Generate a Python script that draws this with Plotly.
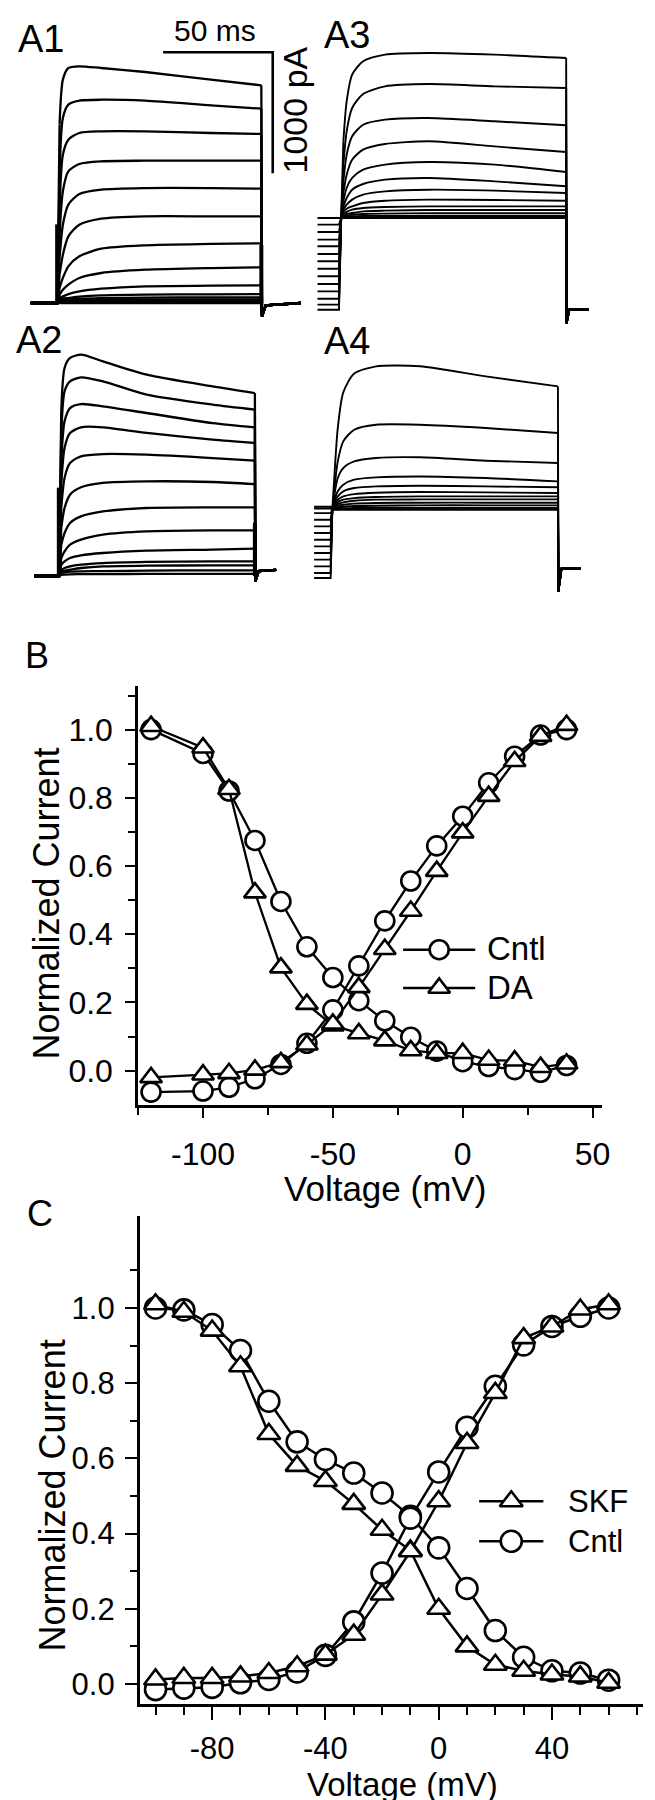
import plotly.graph_objects as go

W, H = 655, 1800
FONT = "Liberation Sans, Arial, Helvetica, sans-serif"

# ====================== DATA ======================
# ---- Panel A: current sweeps (pA) sampled at times (ms) after step onset ----
A1_t = [1, 2.5, 5, 10, 20, 40, 70, 93]
A1_sweeps = [
    [1474, 1846, 1942, 1956, 1942, 1909, 1846, 1799],
    [1061, 1529, 1639, 1672, 1680, 1672, 1634, 1606],
    [785, 1226, 1350, 1405, 1419, 1419, 1405, 1397],
    [565, 923, 1088, 1149, 1171, 1176, 1176, 1176],
    [372, 647, 813, 901, 937, 950, 950, 945],
    [234, 399, 551, 647, 697, 716, 716, 716],
    [124, 207, 303, 386, 449, 477, 488, 493],
    [69, 110, 152, 207, 248, 275, 289, 295],
    [41, 55, 74, 96, 118, 138, 143, 146],
    [28, 36, 41, 52, 63, 69, 72, 74],
    [19, 25, 30, 36, 41, 44, 47, 47],
    [12, 15, 20, 25, 28, 30, 30, 30],
    [8, 10, 12, 15, 16, 17, 17, 17],
    [4, 5, 6, 7, 8, 8, 8, 8],
    [0, 0, 0, 0, 0, 0, 0, 0],
]
A1_hold = 0
A1_pre_start = -12.2
A1_tail_t = [93.3, 95, 111]
A1_tail_I = [-110, -20, 0]
A1_artifact = [650, 480]

A2_t = [1, 2.5, 5, 10, 20, 40, 70, 89.3]
A2_sweeps = [
    [1361, 1719, 1802, 1829, 1774, 1664, 1567, 1512],
    [1168, 1526, 1609, 1642, 1609, 1499, 1416, 1375],
    [948, 1278, 1388, 1421, 1402, 1347, 1264, 1229],
    [755, 1058, 1182, 1229, 1229, 1182, 1127, 1099],
    [562, 810, 934, 989, 1008, 1003, 975, 953],
    [397, 562, 672, 733, 769, 782, 777, 760],
    [259, 355, 438, 493, 534, 562, 567, 567],
    [149, 204, 259, 300, 342, 369, 377, 377],
    [94, 121, 149, 171, 190, 209, 218, 226],
    [52, 66, 80, 94, 107, 116, 121, 121],
    [39, 44, 52, 66, 80, 85, 88, 88],
    [25, 30, 36, 39, 41, 44, 47, 47],
    [10, 12, 14, 15, 16, 17, 17, 17],
]
A2_hold = 0
A2_pre_start = -11.3
A2_tail_t = [89.5, 91, 99]
A2_tail_I = [-45, 40, 50]
A2_artifact = [730, 440]

A3_t = [1, 2.5, 5, 10, 20, 40, 70, 102.6]
A3_sweeps = [
    [634, 964, 1185, 1295, 1350, 1364, 1350, 1322],
    [441, 716, 909, 1025, 1088, 1107, 1088, 1074],
    [303, 523, 675, 771, 813, 826, 799, 766],
    [207, 358, 482, 565, 612, 634, 592, 545],
    [138, 248, 331, 399, 441, 463, 441, 380],
    [96, 165, 234, 281, 317, 331, 303, 262],
    [69, 110, 152, 193, 220, 234, 226, 207],
    [50, 77, 96, 124, 143, 152, 149, 143],
    [33, 50, 69, 83, 91, 96, 96, 96],
    [22, 33, 41, 55, 61, 66, 66, 66],
    [14, 19, 28, 33, 36, 39, 39, 39],
    [6, 11, 14, 17, 17, 17, 17, 17],
    [3, 5, 6, 7, 7, 7, 7, 7],
    [0, 0, 0, 0, 0, 0, 0, 0],
]
A3_prepulse = [-758, -716, -667, -606, -545, -482, -419, -358, -298, -234, -179, -116, -55, 0]
A3_pre_start = -10.8
A3_pre_end = -1.0
A3_tail_t = [102.8, 104, 113]
A3_tail_I = [-870, -758, -758]

A4_t = [1, 2.5, 5, 10, 20, 40, 70, 102.9]
A4_sweeps = [
    [289, 675, 970, 1125, 1185, 1185, 1102, 1019],
    [179, 399, 565, 661, 702, 702, 675, 634],
    [124, 262, 344, 399, 427, 433, 405, 386],
    [83, 152, 207, 248, 267, 275, 262, 234],
    [69, 110, 152, 179, 193, 198, 193, 185],
    [55, 83, 110, 129, 140, 146, 143, 138],
    [41, 63, 83, 96, 105, 110, 110, 110],
    [33, 47, 61, 74, 83, 85, 85, 85],
    [25, 33, 41, 50, 55, 58, 58, 58],
    [14, 19, 25, 30, 33, 36, 36, 36],
    [8, 10, 12, 14, 15, 15, 15, 15],
    [3, 4, 5, 5, 5, 5, 5, 5],
    [0, 0, 0, 0, 0, 0, 0, 0],
]
A4_prepulse = [-565, -523, -468, -413, -358, -303, -248, -193, -138, -83, -28, 10, 25]
A4_pre_start = -8.3
A4_pre_end = -0.75
A4_tail_t = [103.1, 104.5, 113.4]
A4_tail_I = [-675, -488, -488]

SCALE_MS = 50
SCALE_PA = 1000

# ---- Panel B: normalized current vs voltage ----
B_V = [-120, -100, -90, -80, -70, -60, -50, -40, -30, -20, -10, 0, 10, 20, 30, 40]
B_cntl_inact = [1.00, 0.93, 0.82, 0.675, 0.496, 0.363, 0.273, 0.205, 0.146, 0.098, 0.057, 0.026, 0.012, 0.003, -0.005, 0.015]
B_da_inact = [1.01, 0.947, 0.825, 0.522, 0.302, 0.195, 0.132, 0.109, 0.088, 0.059, 0.051, 0.051, 0.031, 0.029, 0.010, 0.020]
B_cntl_act = [-0.063, -0.06, -0.049, -0.024, 0.018, 0.08, 0.178, 0.307, 0.439, 0.556, 0.659, 0.746, 0.844, 0.922, 0.984, 1.0]
B_da_act = [-0.02, -0.012, -0.008, 0.002, 0.024, 0.076, 0.137, 0.244, 0.356, 0.468, 0.585, 0.698, 0.805, 0.907, 0.981, 1.013]
B_xticks = [-100, -50, 0, 50]
B_xticklabels = ["-100", "-50", "0", "50"]
B_xminor = [-125, -75, -25, 25]
B_yticks = [0.0, 0.2, 0.4, 0.6, 0.8, 1.0]
B_yticklabels = ["0.0", "0.2", "0.4", "0.6", "0.8", "1.0"]
B_yminor = [0.1, 0.3, 0.5, 0.7, 0.9, 1.1]

# ---- Panel C ----
C_V = [-100, -90, -80, -70, -60, -50, -40, -30, -20, -10, 0, 10, 20, 30, 40, 50, 60]
C_skf_inact = [1.01, 0.99, 0.94, 0.845, 0.665, 0.58, 0.54, 0.479, 0.41, 0.355, 0.20, 0.10, 0.051, 0.035, 0.025, 0.02, 0.003]
C_cntl_inact = [1.0, 0.995, 0.956, 0.887, 0.752, 0.644, 0.597, 0.561, 0.508, 0.446, 0.362, 0.254, 0.142, 0.071, 0.035, 0.029, 0.01]
C_skf_act = [0.012, 0.016, 0.016, 0.02, 0.029, 0.047, 0.078, 0.131, 0.238, 0.353, 0.486, 0.641, 0.774, 0.92, 0.951, 0.996, 1.01]
C_cntl_act = [-0.015, -0.011, -0.009, 0.003, 0.012, 0.032, 0.076, 0.165, 0.295, 0.441, 0.564, 0.683, 0.792, 0.902, 0.951, 0.978, 1.0]
C_xticks = [-80, -40, 0, 40]
C_xticklabels = ["-80", "-40", "0", "40"]
C_xminor = [-100, -90, -70, -60, -50, -30, -20, -10, 10, 20, 30, 50, 60, 70]
C_yticks = [0.0, 0.2, 0.4, 0.6, 0.8, 1.0]
C_yticklabels = ["0.0", "0.2", "0.4", "0.6", "0.8", "1.0"]
C_yminor = [0.1, 0.3, 0.5, 0.7, 0.9, 1.1]

# ====================== LAYOUT GEOMETRY (pixels) ======================
PX_PER_MS = 2.22
PX_PER_PA = 0.121
PANELS = {
    "A1": dict(ax=1, box=(0, 0, 322, 318), onset=50.0, base=295.0),
    "A2": dict(ax=2, box=(0, 318, 322, 622), onset=51.7, base=568.0),
    "A3": dict(ax=3, box=(300, 0, 655, 322), onset=337.3, base=210.0),
    "A4": dict(ax=4, box=(300, 318, 655, 622), onset=328.3, base=501.7),
}
SCALE_CORNER = (98.2, 2072)  # A1 axis units (ms, pA)

fig = go.Figure()
layout_axes = {}


def axname(n, kind):
    return f"{kind}axis" if n == 1 else f"{kind}axis{n}"


def ref(n, kind):
    return kind if n == 1 else f"{kind}{n}"


for key, p in PANELS.items():
    x0, y0, x1, y1 = p["box"]
    n = p["ax"]
    layout_axes[axname(n, "x")] = dict(
        domain=[x0 / W, x1 / W], anchor=ref(n, "y"), visible=False,
        range=[(x0 - p["onset"]) / PX_PER_MS, (x1 - p["onset"]) / PX_PER_MS], fixedrange=True)
    layout_axes[axname(n, "y")] = dict(
        domain=[1 - y1 / H, 1 - y0 / H], anchor=ref(n, "x"), visible=False,
        range=[(p["base"] - y1) / PX_PER_PA, (p["base"] - y0) / PX_PER_PA], fixedrange=True)


def add_sweeps(n, t, sweeps, pre_levels, pre_start, pre_end, tail_t, tail_I, width):
    for sw, lvl in zip(sweeps, pre_levels):
        line = dict(color="black", width=width)
        # holding / prepulse segment and jump to the step
        fig.add_trace(go.Scatter(x=[pre_start, pre_end, 0, t[0]], y=[lvl, lvl, 0, sw[0]], mode="lines",
                                 xaxis=ref(n, "x"), yaxis=ref(n, "y"), line=line,
                                 showlegend=False, hoverinfo="skip"))
        # current during the step (smooth)
        fig.add_trace(go.Scatter(x=list(t), y=list(sw), mode="lines",
                                 xaxis=ref(n, "x"), yaxis=ref(n, "y"),
                                 line=dict(color="black", width=width, shape="spline", smoothing=0.7),
                                 showlegend=False, hoverinfo="skip"))
        # tail after the step
        fig.add_trace(go.Scatter(x=[t[-1]] + list(tail_t), y=[sw[-1]] + list(tail_I), mode="lines",
                                 xaxis=ref(n, "x"), yaxis=ref(n, "y"), line=line,
                                 showlegend=False, hoverinfo="skip"))


add_sweeps(1, A1_t, A1_sweeps, [A1_hold] * len(A1_sweeps), A1_pre_start, -0.05, A1_tail_t, A1_tail_I, 2.3)
add_sweeps(2, A2_t, A2_sweeps, [A2_hold] * len(A2_sweeps), A2_pre_start, -0.05, A2_tail_t, A2_tail_I, 2.3)
add_sweeps(3, A3_t, A3_sweeps, A3_prepulse, A3_pre_start, A3_pre_end, A3_tail_t, A3_tail_I, 1.9)
add_sweeps(4, A4_t, A4_sweeps, A4_prepulse, A4_pre_start, A4_pre_end, A4_tail_t, A4_tail_I, 1.9)

# capacitive artefacts at step onset / offset (thick vertical bars)
for n, art, t_end in [(1, A1_artifact, A1_t[-1]), (2, A2_artifact, A2_t[-1])]:
    fig.add_trace(go.Scatter(x=[0, 0], y=[0, art[0]], mode="lines", xaxis=ref(n, "x"), yaxis=ref(n, "y"),
                             line=dict(color="black", width=4.5), showlegend=False, hoverinfo="skip"))
    fig.add_trace(go.Scatter(x=[t_end, t_end], y=[0, art[1]], mode="lines", xaxis=ref(n, "x"), yaxis=ref(n, "y"),
                             line=dict(color="black", width=4), showlegend=False, hoverinfo="skip"))

# scale bar (A1 units)
ct, ci = SCALE_CORNER
fig.add_trace(go.Scatter(x=[ct - SCALE_MS, ct, ct], y=[ci, ci, ci - SCALE_PA], mode="lines",
                         xaxis="x", yaxis="y", line=dict(color="black", width=2.6),
                         showlegend=False, hoverinfo="skip"))

# ---------------- B and C ----------------
B_BOX = (131.7, 678.3, 601.5, 1096.7)
C_BOX = (133.3, 1208.3, 643.0, 1695.5)
B_XR = [-125, 53.7]
B_YR = [-0.1, 1.127]
C_XR = [-105.6, 72.2]
C_YR = [-0.052, 1.244]


def iv_axes(n, box, xr, yr, xt, xtl, xm, yt, ytl, ym, fs, xlen, ylen, xmlen, ymlen, xso, yso):
    x0, y0, x1, y1 = box
    common = dict(showline=True, linecolor="black", linewidth=2.6, ticks="outside", tickcolor="black",
                  tickwidth=2.2, showgrid=False, zeroline=False, fixedrange=True,
                  tickfont=dict(family=FONT, size=fs, color="black"), tickmode="array")
    layout_axes[axname(n, "x")] = dict(
        common, domain=[x0 / W, x1 / W], anchor=ref(n, "y"), range=xr, tickvals=xt, ticktext=xtl,
        ticklen=xlen, ticklabelstandoff=xso,
        minor=dict(tickmode="array", tickvals=xm, ticks="outside", ticklen=xmlen, tickwidth=2, tickcolor="black"))
    layout_axes[axname(n, "y")] = dict(
        common, domain=[1 - y1 / H, 1 - y0 / H], anchor=ref(n, "x"), range=yr, tickvals=yt, ticktext=ytl,
        ticklen=ylen, ticklabelstandoff=yso,
        minor=dict(tickmode="array", tickvals=ym, ticks="outside", ticklen=ymlen, tickwidth=2, tickcolor="black"))


iv_axes(5, B_BOX, B_XR, B_YR, B_xticks, B_xticklabels, B_xminor, B_yticks, B_yticklabels, B_yminor,
        32, 10, 10, 7, 7, 9, 6)
iv_axes(6, C_BOX, C_XR, C_YR, C_xticks, C_xticklabels, C_xminor, C_yticks, C_yticklabels, C_yminor,
        31, 14, 12, 9, 7, 1, 4)


def marker(sym, size):
    return dict(symbol=sym, size=size, color="white", line=dict(color="black", width=2.6))


def add_iv(n, x, y, sym, size, lw):
    fig.add_trace(go.Scatter(x=x, y=y, mode="lines+markers", xaxis=ref(n, "x"), yaxis=ref(n, "y"),
                             line=dict(color="black", width=lw), marker=marker(sym, size),
                             cliponaxis=False, showlegend=False, hoverinfo="skip"))


add_iv(5, B_V, B_cntl_inact, "circle", 19, 2.3)
add_iv(5, B_V, B_cntl_act, "circle", 19, 2.3)
add_iv(5, B_V, B_da_inact, "triangle-up", 19, 2.3)
add_iv(5, B_V, B_da_act, "triangle-up", 19, 2.3)

add_iv(6, C_V, C_cntl_inact, "circle", 21, 2.5)
add_iv(6, C_V, C_cntl_act, "circle", 21, 2.5)
add_iv(6, C_V, C_skf_inact, "triangle-up", 20, 2.5)
add_iv(6, C_V, C_skf_act, "triangle-up", 20, 2.5)

# ---------------- legend keys (overlay pixel axis) ----------------
layout_axes["xaxis7"] = dict(domain=[0, 1], range=[0, W], visible=False, anchor="y7", fixedrange=True)
layout_axes["yaxis7"] = dict(domain=[0, 1], range=[H, 0], visible=False, anchor="x7", fixedrange=True)
LEGEND_KEYS = [  # (x_start, x_end, y, symbol, size)
    (400, 473, 941.7, "circle", 19),
    (400, 473, 980.0, "triangle-up", 19),
    (477, 542, 1493.3, "triangle-up", 20),
    (477, 542, 1533.3, "circle", 21),
]
for xa, xb, yy, sym, sz in LEGEND_KEYS:
    fig.add_trace(go.Scatter(x=[xa, xb], y=[yy, yy], mode="lines", xaxis="x7", yaxis="y7",
                             line=dict(color="black", width=2.5), showlegend=False, hoverinfo="skip"))
    fig.add_trace(go.Scatter(x=[(xa + xb) / 2], y=[yy], mode="markers", xaxis="x7", yaxis="y7",
                             marker=marker(sym, sz), cliponaxis=False, showlegend=False, hoverinfo="skip"))


def ann(text, x, y, size, xanchor="center", yanchor="middle", angle=0):
    return dict(text=text, x=x / W, y=1 - y / H, xref="paper", yref="paper", showarrow=False,
                font=dict(family=FONT, size=size, color="black"), xanchor=xanchor, yanchor=yanchor,
                textangle=angle)


annotations = [
    ann("A1", 8, 31, 38, "left"),
    ann("A2", 6, 332, 38, "left"),
    ann("A3", 318, 27, 38, "left"),
    ann("A4", 318, 333, 38, "left"),
    ann(f"{SCALE_MS} ms", 210, 22.5, 30),
    ann(f"{SCALE_PA} pA", 291, 102, 34, angle=-90),
    ann("B", 15, 647, 36, "left"),
    ann("C", 17, 1205, 36, "left"),
    ann("Voltage (mV)", 382, 1180, 35),
    ann("Normalized Current", 38, 896, 36, angle=-90),
    ann("Voltage (mV)", 399, 1776, 33),
    ann("Normalized Current", 45, 1487, 36, angle=-90),
    ann("Cntl", 483, 940, 33, "left"),
    ann("DA", 483, 980, 33, "left"),
    ann("SKF", 565, 1493, 31, "left"),
    ann("Cntl", 565, 1533, 31, "left"),
]

fig.update_layout(
    width=W, height=H, margin=dict(l=0, r=0, t=0, b=0),
    paper_bgcolor="white", plot_bgcolor="rgba(0,0,0,0)",
    showlegend=False, annotations=annotations,
    font=dict(family=FONT, color="black"),
    **layout_axes,
)

fig.write_html("out.html")
